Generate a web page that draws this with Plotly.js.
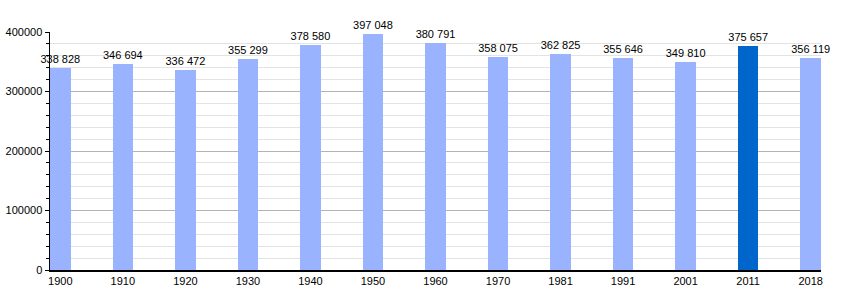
<!DOCTYPE html>
<html>
<head>
<meta charset="utf-8">
<script src="https://cdn.plot.ly/plotly-3.0.1.min.js"></script>
<style>html,body{margin:0;padding:0;background:#fff;}#chart{width:850px;height:300px;}</style>
</head>
<body>
<div id="chart"></div>
<script>
const years = ['1900','1910','1920','1930','1940','1950','1960','1970','1981','1991','2001','2011','2018'];
const population = [338828, 346694, 336472, 355299, 378580, 397048, 380791, 358075, 362825, 355646, 349810, 375657, 356119];
const highlightYear = '2011';

const fmt = v => String(v).replace(/\B(?=(\d{3})+(?!\d))/g, ' ');
const colors = years.map(y => y === highlightYear ? '#0066cc' : '#99b3ff');

Plotly.newPlot('chart', [{
  type: 'bar',
  x: years,
  y: population,
  width: 0.33,
  marker: {color: colors},
  text: population.map(fmt),
  textposition: 'outside',
  constraintext: 'none',
  textfont: {family: 'Liberation Sans, Arial, sans-serif', size: 11, color: '#000'},
  cliponaxis: false,
  hoverinfo: 'x+y'
}], {
  width: 850, height: 300,
  margin: {l: 50, r: 29, t: 32, b: 30},
  paper_bgcolor: '#fff', plot_bgcolor: '#fff',
  showlegend: false,
  font: {family: 'Liberation Sans, Arial, sans-serif', size: 11, color: '#000'},
  xaxis: {
    type: 'category',
    range: [-0.165, 12.165],
    showline: true, linecolor: '#000', linewidth: 1.5,
    ticks: '', showgrid: false, zeroline: false,
    tickfont: {size: 11}
  },
  yaxis: {
    range: [0, 400000],
    dtick: 100000,
    tickformat: 'd',
    showline: true, linecolor: '#000', linewidth: 1.5,
    ticks: 'outside', ticklen: 4, tickcolor: '#000',
    showgrid: true, gridcolor: '#b3b3b3', gridwidth: 1,
    zeroline: false,
    tickfont: {size: 11},
    minor: {dtick: 20000, showgrid: true, gridcolor: '#e3e3e3', ticks: 'outside', ticklen: 3, tickcolor: '#000'}
  },
  bargap: 0
}, {displayModeBar: false, staticPlot: true});
</script>
</body>
</html>
